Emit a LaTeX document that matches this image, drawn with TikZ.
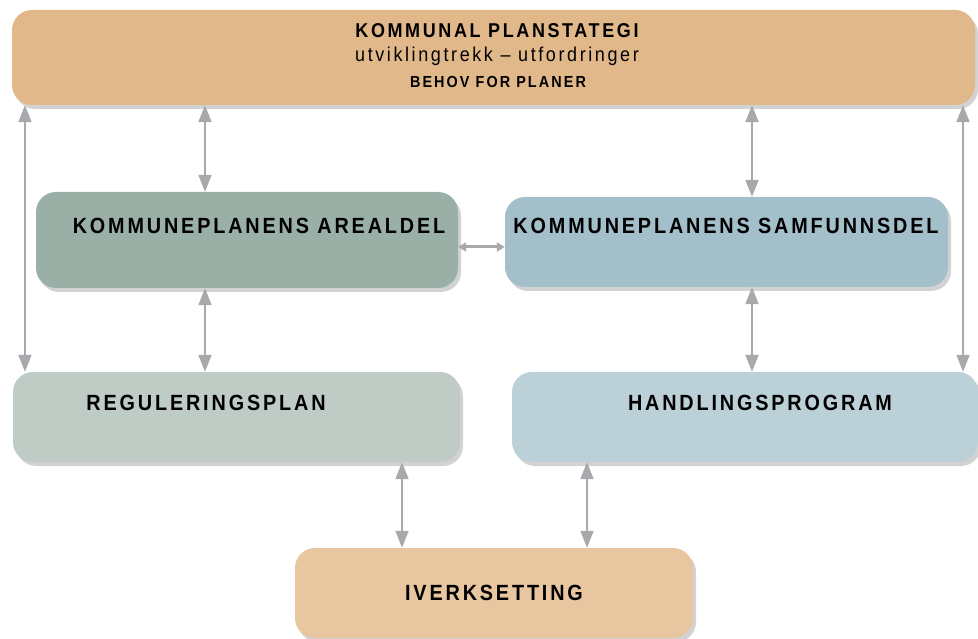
\documentclass[tikz,border=0pt]{standalone}
\usepackage{fontspec}
\setmainfont{Liberation Sans}
\newfontfamily\boxfont{Liberation Sans}[FakeStretch=0.9,LetterSpace=13]
\usepackage{tikz}
\usetikzlibrary{arrows.meta,shadows,calc}

\definecolor{planorange}{HTML}{E1B88A}
\definecolor{ivorange}{HTML}{E8C6A0}
\definecolor{arealgreen}{HTML}{9AB0A6}
\definecolor{samfblue}{HTML}{A3BFCA}
\definecolor{reggreen}{HTML}{BFCCC5}
\definecolor{handblue}{HTML}{BCD0D8}
\definecolor{arrowgray}{HTML}{A8A9AD}

\tikzset{
  planbox/.style={rounded corners=20pt, inner sep=0pt,
    drop shadow={shadow xshift=3pt, shadow yshift=-4pt, opacity=0.25, fill=black!70}},
  boxtxt/.style={font=\boxfont\bfseries\fontsize{22}{23}\selectfont, inner sep=0pt},
  link/.style={draw=arrowgray, line width=2pt,
    {Triangle[width=13pt,length=17pt]}-{Triangle[width=13pt,length=17pt]}},
  smalllink/.style={draw=arrowgray, line width=3pt,
    {Triangle[width=9pt,length=8pt]}-{Triangle[width=9pt,length=8pt]}}
}

\begin{document}
\begin{tikzpicture}[x=1pt,y=-1pt]
\useasboundingbox (0,0) rectangle (978,639);

% boxes
\node[planbox, fill=planorange, minimum width=963pt, minimum height=95pt] (top) at (493.5,57.5) {};
\node[planbox, fill=arealgreen, minimum width=422pt, minimum height=96pt] (areal) at (247,240) {};
\node[planbox, fill=samfblue, minimum width=443pt, minimum height=90pt] (samf) at (726.5,242) {};
\node[planbox, fill=reggreen, minimum width=447pt, minimum height=90pt] (reg) at (236.5,417) {};
\node[planbox, fill=handblue, minimum width=466pt, minimum height=90pt] (hand) at (745,417) {};
\node[planbox, fill=ivorange, minimum width=398pt, minimum height=90pt, boxtxt] (iverk) at (494,593) {IVERKSETTING};

% labels
\node[boxtxt, font=\boxfont\bfseries\fontsize{20}{21}\selectfont] (toptxt) at (497,31) {KOMMUNAL PLANSTATEGI};
\node[boxtxt, font=\boxfont\fontsize{20}{21}\selectfont] (trendtxt) at (497,56) {utviklingtrekk – utfordringer};
\node[boxtxt, font=\boxfont\bfseries\fontsize{16}{17}\selectfont] (behovtxt) at (498,82) {BEHOV FOR PLANER};
\node[boxtxt] (arealtxt) at (259,226) {KOMMUNEPLANENS AREALDEL};
\node[boxtxt] (samftxt) at (726,226) {KOMMUNEPLANENS SAMFUNNSDEL};
\node[boxtxt] (regtxt) at (206,403) {REGULERINGSPLAN};
\node[boxtxt] (handtxt) at (760,403) {HANDLINGSPROGRAM};

% columns for the arrows
\coordinate (farleft) at (25,0);
\coordinate (leftcol) at (205,0);
\coordinate (rightcol) at (752,0);
\coordinate (farright) at (963,0);
\coordinate (botleft) at (402,0);
\coordinate (botright) at (587,0);
\coordinate (midrow) at (0,247);

\draw[link] (top.south -| farleft) -- (reg.north -| farleft);
\draw[link] (top.south -| leftcol) -- (areal.north -| leftcol);
\draw[link] (areal.south -| leftcol) -- (reg.north -| leftcol);
\draw[link] (top.south -| rightcol) -- (samf.north -| rightcol);
\draw[link] (samf.south -| rightcol) -- (hand.north -| rightcol);
\draw[link] (top.south -| farright) -- (hand.north -| farright);
\draw[link] (reg.south -| botleft) -- (iverk.north -| botleft);
\draw[link] (hand.south -| botright) -- (iverk.north -| botright);
\draw[smalllink] (areal.east |- midrow) -- (samf.west |- midrow);

\end{tikzpicture}
\end{document}
